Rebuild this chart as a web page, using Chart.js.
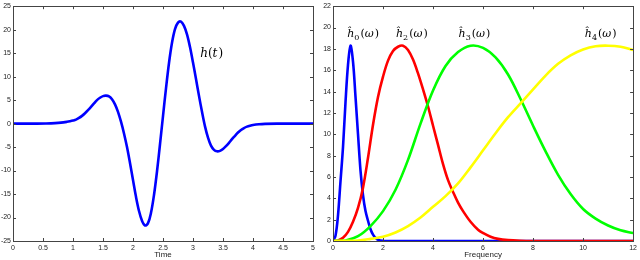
<!DOCTYPE html>
<html>
<head>
<meta charset="utf-8">
<script src="https://cdn.jsdelivr.net/npm/chart.js@4/dist/chart.umd.min.js"></script>
<style>
  html, body { margin: 0; padding: 0; background: #fff; }
  .wrap { position: absolute; top: 0; width: 320px; height: 260px; }
</style>
</head>
<body>
<div class="wrap" style="left:0"><canvas id="timeChart" width="320" height="260"></canvas></div>
<div class="wrap" style="left:320px"><canvas id="freqChart" width="320" height="260"></canvas></div>
<script>
// left panel: h(t)
const timeValues = [0, 0.4, 0.55, 0.7, 0.8, 0.9, 0.95, 1.0, 1.05, 1.1, 1.15, 1.2, 1.25, 1.3, 1.35, 1.4, 1.45, 1.5, 1.55, 1.6, 1.65, 1.7, 1.75, 1.8, 1.85, 1.9, 1.95,
    2.0, 2.05, 2.1, 2.15, 2.2, 2.25, 2.3, 2.35, 2.4, 2.45, 2.5, 2.55, 2.6, 2.65, 2.7, 2.75, 2.8, 2.85, 2.9, 2.95,
    3.0, 3.05, 3.1, 3.15, 3.2, 3.25, 3.3, 3.35, 3.4, 3.45, 3.5, 3.55, 3.6, 3.65, 3.7, 3.75, 3.8, 3.85, 3.9, 3.95,
    4.0, 4.1, 4.2, 4.4, 4.7, 5];
const hValues = [0, 0, 0.03, 0.1, 0.2, 0.38, 0.5, 0.65, 0.85, 1.2, 1.65, 2.2, 2.85, 3.55, 4.3, 5.0, 5.5, 5.85, 5.95, 5.8, 5.2, 4.1, 2.5, 0.4, -2.1, -5.0, -8.4,
    -12.0, -15.6, -18.6, -20.7, -21.7, -21.2, -19.0, -15.2, -10.2, -4.4, 1.6, 7.5, 12.9, 17.2, 20.1, 21.5, 21.7, 20.8, 19.0, 16.3,
    13.0, 9.5, 5.9, 2.5, -0.6, -3.0, -4.7, -5.6, -5.9, -5.8, -5.4, -4.8, -4.1, -3.3, -2.6, -1.9, -1.35, -0.95, -0.65, -0.45,
    -0.3, -0.14, -0.06, -0.01, 0, 0];

// right panel: frequency responses
const w0 = [0, 0.1, 0.2, 0.3, 0.4, 0.5, 0.6, 0.7, 0.8, 0.9, 1.0, 1.1, 1.2, 1.3, 1.4, 1.5, 1.6, 1.7, 1.8, 2.0, 2.5, 4, 12];
const h0 = [0, 0.5, 2.4, 5.6, 8.8, 13.0, 16.5, 18.3, 16.8, 13.5, 10.0, 6.6, 4.3, 2.8, 1.9, 1.1, 0.6, 0.3, 0.12, 0.02, 0, 0, 0];
const w2 = [0, 0.2, 0.4, 0.6, 0.8, 1.0, 1.2, 1.4, 1.6, 1.8, 2.0, 2.2, 2.4, 2.6, 2.8, 3.0, 3.2, 3.4, 3.6, 3.8, 4.0, 4.2, 4.4, 4.6, 4.8, 5.0, 5.2, 5.5, 5.8, 6.0, 6.3, 6.6, 7.0, 7.5, 8, 9, 12];
const h2 = [0, 0.05, 0.3, 0.85, 1.8, 3.1, 5.0, 7.8, 10.9, 13.5, 15.4, 16.9, 17.8, 18.2, 18.3, 17.9, 17.0, 15.7, 14.2, 12.6, 10.8, 9.0, 7.2, 5.7, 4.6, 3.6, 2.8, 1.8, 1.05, 0.75, 0.4, 0.2, 0.08, 0.02, 0, 0, 0];
const w3 = [0, 0.5, 1.0, 1.5, 2.0, 2.5, 3.0, 3.5, 4.0, 4.5, 5.0, 5.5, 6.0, 6.5, 7.0, 7.5, 8.0, 8.5, 9.0, 9.5, 10.0, 10.5, 11.0, 11.5, 12.0];
const h3 = [0, 0.05, 0.45, 1.4, 2.8, 4.8, 7.6, 11.0, 14.1, 16.4, 17.7, 18.3, 18.1, 17.2, 15.6, 13.3, 10.8, 8.4, 6.2, 4.4, 3.0, 2.1, 1.45, 1.0, 0.75];
const w4 = [0, 1.0, 1.5, 2.0, 2.5, 3.0, 3.5, 4.0, 4.5, 5.0, 5.5, 6.0, 6.5, 7.0, 7.5, 8.0, 8.5, 9.0, 9.5, 10.0, 10.5, 11.0, 11.5, 12.0];
const h4 = [0, 0.05, 0.2, 0.4, 0.8, 1.4, 2.2, 3.2, 4.2, 5.4, 6.9, 8.5, 10.1, 11.6, 12.9, 14.2, 15.5, 16.6, 17.4, 17.95, 18.25, 18.3, 18.2, 17.9];

const timeTicks = { min: 0, max: 5, step: 0.5 };
const hTicks = { min: -25, max: 25, step: 5 };
const freqTicks = { min: 0, max: 12, step: 2 };
const magTicks = { min: 0, max: 22, step: 2 };

function points(xs, ys) {
    return xs.map((x, i) => ({ x: x, y: ys[i] }));
}

// MATLAB-like box with inward ticks on all four sides
const boxPlugin = {
    id: "box",
    afterDraw(chart) {
        const ctx = chart.ctx;
        const a = chart.chartArea;
        const xs = chart.scales.x;
        const ys = chart.scales.y;
        ctx.save();
        ctx.strokeStyle = "#444";
        ctx.lineWidth = 1;
        ctx.beginPath();
        xs.ticks.forEach((t) => {
            const px = Math.round(xs.getPixelForValue(t.value)) + 0.5;
            ctx.moveTo(px, a.bottom); ctx.lineTo(px, a.bottom - 3);
            ctx.moveTo(px, a.top); ctx.lineTo(px, a.top + 3);
        });
        ys.ticks.forEach((t) => {
            const py = Math.round(ys.getPixelForValue(t.value)) + 0.5;
            ctx.moveTo(a.left, py); ctx.lineTo(a.left + 3, py);
            ctx.moveTo(a.right, py); ctx.lineTo(a.right - 3, py);
        });
        ctx.stroke();
        ctx.strokeRect(Math.round(a.left) + 0.5, Math.round(a.top) + 0.5,
            Math.round(a.right - a.left), Math.round(a.bottom - a.top));
        ctx.restore();
    }
};

// math labels placed in data coordinates
const labelPlugin = {
    id: "mathLabels",
    afterDatasetsDraw(chart, args, opts) {
        const ctx = chart.ctx;
        const xs = chart.scales.x;
        const ys = chart.scales.y;
        ctx.save();
        ctx.fillStyle = "#000";
        ctx.textBaseline = "alphabetic";
        (opts.items || []).forEach((it) => {
            let px = xs.getPixelForValue(it.x);
            const py = ys.getPixelForValue(it.y);
            it.parts.forEach((p) => {
                ctx.font = p.font;
                ctx.fillText(p.text, px, py + (p.dy || 0));
                px += ctx.measureText(p.text).width + (p.gap || 0);
            });
        });
        ctx.restore();
    }
};

const it12 = "italic 12px 'DejaVu Serif'";
const up12 = "12px 'DejaVu Serif'";
const it11 = "italic 11px 'DejaVu Serif'";
const up11 = "11px 'DejaVu Serif'";
const sub8 = "8px 'DejaVu Serif'";

function hatLabel(n) {
    return [
        { text: "\u0125", font: it11 },
        { text: n, font: sub8, dy: 3, gap: 1 },
        { text: "(", font: up11 },
        { text: "\u03c9", font: it11, gap: 1 },
        { text: ")", font: up11 }
    ];
}

function axisOpts(t, title, size, isX) {
    const o = {
        type: "linear",
        min: t.min,
        max: t.max,
        grid: { display: false, drawTicks: false },
        border: { display: false },
        ticks: {
            stepSize: t.step,
            padding: isX ? 3 : 2,
            color: "#222",
            font: { family: "'Liberation Sans', Arial", size: 7 },
            maxRotation: 0,
            autoSkip: false,
            callback: (v) => String(Math.round(v * 100) / 100)
        },
        afterFit(scale) {
            if (isX) scale.height = size; else scale.width = size;
        }
    };
    if (title) {
        o.title = {
            display: true,
            text: title,
            color: "#222",
            font: { family: "'Liberation Sans', Arial", size: 8 },
            padding: { top: 0, bottom: 0 }
        };
    }
    return o;
}

const lineStyle = {
    borderWidth: 2.6,
    pointRadius: 0,
    fill: false,
    tension: 0.35
};

new Chart(document.getElementById("timeChart"), {
    type: "line",
    data: {
        datasets: [
            Object.assign({ data: points(timeValues, hValues), borderColor: "#0000ff" }, lineStyle)
        ]
    },
    options: {
        responsive: false,
        animation: false,
        layout: { padding: { top: 3, right: 7, left: 0, bottom: 0 } },
        plugins: {
            legend: { display: false },
            tooltip: { enabled: false },
            mathLabels: {
                items: [{
                    x: 3.12, y: 14.2, parts: [
                        { text: "h", font: it12 },
                        { text: "(", font: up12 },
                        { text: "t", font: it12, gap: 1 },
                        { text: ")", font: up12 }
                    ]
                }]
            }
        },
        scales: {
            x: axisOpts(timeTicks, "Time", 19, true),
            y: axisOpts(hTicks, null, 13, false)
        }
    },
    plugins: [boxPlugin, labelPlugin]
});

new Chart(document.getElementById("freqChart"), {
    type: "line",
    data: {
        datasets: [
            Object.assign({ data: points(w0, h0), borderColor: "#0000ff", order: 4 }, lineStyle),
            Object.assign({ data: points(w2, h2), borderColor: "#ff0000", order: 3 }, lineStyle),
            Object.assign({ data: points(w3, h3), borderColor: "#00ff00", order: 2 }, lineStyle),
            Object.assign({ data: points(w4, h4), borderColor: "#ffff00", order: 1 }, lineStyle)
        ]
    },
    options: {
        responsive: false,
        animation: false,
        layout: { padding: { top: 3, right: 5, left: 0, bottom: 0 } },
        plugins: {
            legend: { display: false },
            tooltip: { enabled: false },
            mathLabels: {
                items: [
                    { x: 0.57, y: 19.1, parts: hatLabel("0") },
                    { x: 2.52, y: 19.1, parts: hatLabel("2") },
                    { x: 5.02, y: 19.1, parts: hatLabel("3") },
                    { x: 10.07, y: 19.1, parts: hatLabel("4") }
                ]
            }
        },
        scales: {
            x: axisOpts(freqTicks, "Frequency", 19, true),
            y: axisOpts(magTicks, null, 13, false)
        }
    },
    plugins: [boxPlugin, labelPlugin]
});
</script>
</body>
</html>
